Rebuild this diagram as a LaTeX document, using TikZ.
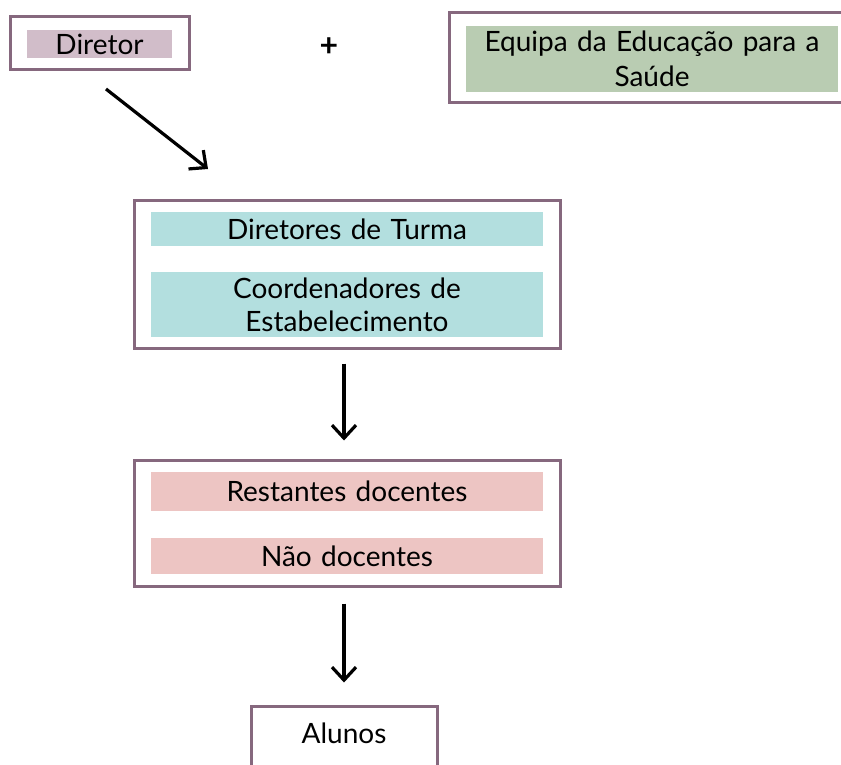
\documentclass[tikz,border=0pt]{standalone}
\usepackage{fontspec}
\setmainfont{Lato}
\usetikzlibrary{arrows.meta, positioning}

\definecolor{framecol}{HTML}{86687E}
\definecolor{dirfill}{HTML}{D1BDC9}
\definecolor{eqfill}{HTML}{B9CCB2}
\definecolor{tealfill}{HTML}{B3DFDF}
\definecolor{pinkfill}{HTML}{EDC5C3}

\tikzset{
  frame/.style={draw=framecol, line width=3pt, fill=white, inner sep=0pt},
  band/.style={fill=#1, inner sep=0pt, align=center, text width=360pt},
  flow/.style={-{Straight Barb[length=13pt, width=24pt]}, line width=3.2pt}
}

\begin{document}
\begin{tikzpicture}[x=1pt, y=-1pt, font=\fontsize{28}{33}\selectfont]
    \useasboundingbox (0,0) rectangle (841,765);
    \clip (0,0) rectangle (841,765);

    % Top row
    \node[frame, minimum width=179, minimum height=53] (diretorbox) at (99.5,43.5) {};
    \node[band=dirfill, text width=140pt, minimum width=145, minimum height=28] (diretor) at (99.5,44) {Diretor};
    \node[font=\fontsize{32}{33}\selectfont\bfseries] (plus) at (329,47) {+};
    \node[frame, minimum width=401, minimum height=90] (equipabox) at (649.5,58) {};
    \node[band=eqfill, text width=372pt, minimum width=372, minimum height=66,
          font=\fontsize{28}{35}\selectfont] (equipa) at (652,59) {Equipa da Educação para a\\Saúde};

    % Diretores and coordenadores
    \node[frame, minimum width=426, minimum height=148] (turmabox) at (347,274) {};
    \node[band=tealfill, text width=392pt, minimum width=392, minimum height=34] (turma) at (347,229) {Diretores de Turma};
    \node[band=tealfill, text width=392pt, minimum width=392, minimum height=65] (coord) at (347,304.5) {Coordenadores de\\Estabelecimento};

    % Docentes
    \node[frame, minimum width=426, minimum height=126] (docbox) at (347,523) {};
    \node[band=pinkfill, text width=392pt, minimum width=392, minimum height=39] (docentes) at (347,491.5) {Restantes docentes};
    \node[band=pinkfill, text width=392pt, minimum width=392, minimum height=36] (naodoc) at (347,556) {Não docentes};

    % Alunos
    \node[frame, minimum width=186, minimum height=84] (alunosbox) at (344,748) {};
    \node (alunos) at (344,733) {Alunos};

    % Arrows
    \coordinate (d1) at (106,89);
    \coordinate (d2) at (208,169);
    \draw[flow] (d1) -- (d2);
    \draw[flow, shorten <=14pt, shorten >=18pt] (turmabox.south -| alunos) -- (docbox.north -| alunos);
    \draw[flow, shorten <=16pt, shorten >=22pt] (docbox.south -| alunos) -- (alunosbox.north);
\end{tikzpicture}
\end{document}
